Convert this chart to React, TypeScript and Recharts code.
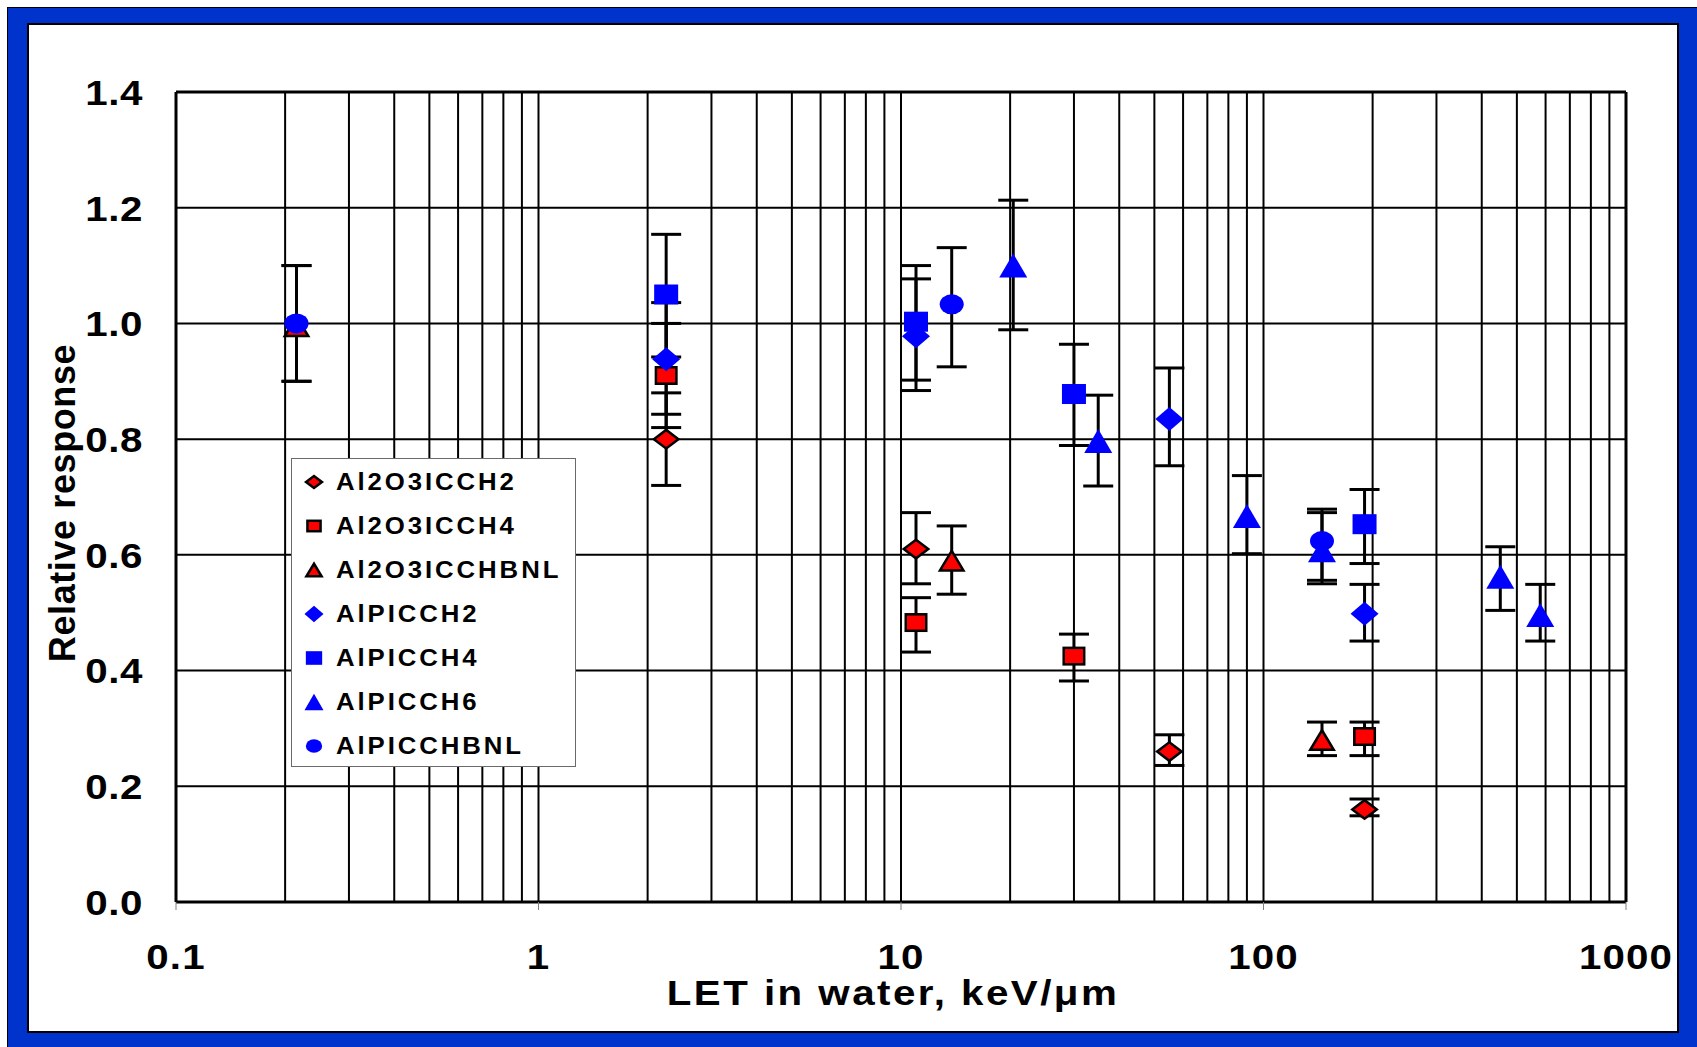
import {
    ScatterChart,
    Scatter,
    XAxis,
    YAxis,
    CartesianGrid,
    ReferenceLine,
    ErrorBar,
    Legend,
} from 'recharts';

const FONT = '"Liberation Sans", Arial, Helvetica, sans-serif';
const STRETCH = 1.12; // the slide text is drawn a little wide

// [LET keV/um, relative response, error bar low, error bar high]
const al2o3Ch2 = [
    [2.25, 0.80, 0.72, 0.88],
    [11, 0.61, 0.55, 0.673],
    [55, 0.26, 0.236, 0.289],
    [190, 0.16, 0.149, 0.178],
];
const al2o3Ch4 = [
    [2.25, 0.91, 0.82, 1.0],
    [11, 0.483, 0.432, 0.526],
    [30, 0.425, 0.382, 0.463],
    [190, 0.286, 0.253, 0.311],
];
const al2o3ChBnl = [
    [0.215, 0.995, 0.9, 1.1],
    [13.8, 0.59, 0.532, 0.65],
    [145, 0.28, 0.253, 0.311],
];
const alpCh2 = [
    [2.25, 0.938, 0.843, 1.036],
    [11, 0.978, 0.884, 1.077],
    [55, 0.835, 0.754, 0.923],
    [190, 0.498, 0.451, 0.549],
];
const alpCh4 = [
    [2.25, 1.05, 0.942, 1.154],
    [11, 1.003, 0.902, 1.1],
    [30, 0.878, 0.789, 0.964],
    [190, 0.653, 0.585, 0.713],
];
const alpCh6 = [
    [20.4, 1.1, 0.989, 1.213],
    [35, 0.797, 0.719, 0.876],
    [90, 0.667, 0.602, 0.737],
    [145, 0.608, 0.55, 0.673],
    [450, 0.562, 0.504, 0.614],
    [580, 0.496, 0.451, 0.549],
];
const alpChBnl = [
    [0.215, 1.0, 0.9, 1.1],
    [13.8, 1.033, 0.925, 1.131],
    [145, 0.624, 0.556, 0.679],
];

const xTicks = [0.1, 1, 10, 100, 1000];
const yTicks = [0, 0.2, 0.4, 0.6, 0.8, 1.0, 1.2, 1.4];
const xGridLines = [
    0.2, 0.3, 0.4, 0.5, 0.6, 0.7, 0.8, 0.9,
    1, 2, 3, 4, 5, 6, 7, 8, 9,
    10, 20, 30, 40, 50, 60, 70, 80, 90,
    100, 200, 300, 400, 500, 600, 700, 800, 900,
];

type Kind = 'diamond' | 'square' | 'triangle' | 'circle';

interface SeriesDef {
    name: string;
    rows: number[][];
    kind: Kind;
    fill: string;
    outline: boolean;
    w: number;
    h: number;
}

const series: SeriesDef[] = [
    { name: 'Al2O3ICCH2', rows: al2o3Ch2, kind: 'diamond', fill: '#FF0000', outline: true, w: 27, h: 21 },
    { name: 'Al2O3ICCH4', rows: al2o3Ch4, kind: 'square', fill: '#FF0000', outline: true, w: 23, h: 19 },
    { name: 'Al2O3ICCHBNL', rows: al2o3ChBnl, kind: 'triangle', fill: '#FF0000', outline: true, w: 26, h: 22 },
    { name: 'AlPICCH2', rows: alpCh2, kind: 'diamond', fill: '#0000FF', outline: false, w: 28, h: 24 },
    { name: 'AlPICCH4', rows: alpCh4, kind: 'square', fill: '#0000FF', outline: false, w: 24, h: 20 },
    { name: 'AlPICCH6', rows: alpCh6, kind: 'triangle', fill: '#0000FF', outline: false, w: 28, h: 24 },
    { name: 'AlPICCHBNL', rows: alpChBnl, kind: 'circle', fill: '#0000FF', outline: false, w: 24, h: 20 },
];

function Marker({ s, cx, cy, scale = 1 }: { s: SeriesDef; cx: number; cy: number; scale?: number }) {
    const sw = s.outline ? 2.5 : 0;
    const w = s.w * scale - sw;
    const h = s.h * scale - sw;
    const common = { fill: s.fill, stroke: s.outline ? '#000' : 'none', strokeWidth: sw, strokeLinejoin: 'miter' as const };
    if (s.kind === 'diamond') {
        return <polygon points={`${cx - w / 2},${cy} ${cx},${cy - h / 2} ${cx + w / 2},${cy} ${cx},${cy + h / 2}`} {...common} />;
    }
    if (s.kind === 'square') {
        return <rect x={cx - w / 2} y={cy - h / 2} width={w} height={h} {...common} />;
    }
    if (s.kind === 'triangle') {
        return <polygon points={`${cx},${cy - h / 2} ${cx + w / 2},${cy + h / 2} ${cx - w / 2},${cy + h / 2}`} {...common} />;
    }
    return <ellipse cx={cx} cy={cy} rx={w / 2} ry={h / 2} {...common} />;
}

const LegendBox = ({ payload }: any) => (
    <div
        style={{
            width: 285,
            height: 309,
            border: '1px solid #6a6a6a',
            background: '#fff',
            boxSizing: 'border-box',
            paddingTop: 1,
            fontFamily: FONT,
        }}
    >
        {(payload ?? []).map((entry: any) => {
            const s = series.find((d) => d.name === entry.value);
            if (!s) return null;
            return (
                <div key={s.name} style={{ height: 44, display: 'flex', alignItems: 'center' }}>
                    <svg width={44} height={30} style={{ flex: 'none' }}>
                        <Marker s={s} cx={22} cy={15} scale={0.68} />
                    </svg>
                    <span
                        style={{
                            display: 'inline-block',
                            fontSize: 23,
                            fontWeight: 700,
                            letterSpacing: 2.6,
                            color: '#000',
                            whiteSpace: 'nowrap',
                            transform: `scaleX(${STRETCH})`,
                            transformOrigin: 'left center',
                        }}
                    >
                        {s.name}
                    </span>
                </div>
            );
        })}
    </div>
);

const tickStyle = { fontFamily: FONT, fontSize: 36, fontWeight: 700, fill: '#000' };

const XTick = ({ x, y, payload }: any) => (
    <text transform={`translate(${x},${y}) scale(${STRETCH},1)`} textAnchor="middle" dy="0.71em" letterSpacing={1} {...tickStyle}>
        {String(payload.value)}
    </text>
);

const YTick = ({ x, y, payload }: any) => (
    <text transform={`translate(${x},${y}) scale(${STRETCH},1)`} textAnchor="end" dy="0.355em" letterSpacing={0.5} {...tickStyle}>
        {Number(payload.value).toFixed(1)}
    </text>
);

const XTitle = ({ viewBox }: any) => (
    <text
        transform={`translate(${viewBox.x + viewBox.width / 2 - 8},${viewBox.y + 103}) scale(${STRETCH},1)`}
        textAnchor="middle"
        fontFamily={FONT}
        fontSize={36}
        fontWeight={700}
        letterSpacing={2.2}
        fill="#000"
    >
        LET in water, keV/μm
    </text>
);

const YTitle = ({ viewBox }: any) => {
    const x = viewBox.x + 75;
    const y = viewBox.y + viewBox.height / 2 + 6;
    return (
        <text
            x={x}
            y={y}
            transform={`rotate(-90, ${x}, ${y})`}
            textAnchor="middle"
            fontFamily={FONT}
            fontSize={36}
            fontWeight={700}
            letterSpacing={0.6}
            fill="#000"
        >
            Relative response
        </text>
    );
};

export default function App() {
    return (
        <div style={{ position: 'absolute', left: 0, top: 0, width: 1697, height: 1047, background: '#fff', overflow: 'hidden' }}>
            {/* blue slide frame */}
            <div style={{ position: 'absolute', left: 7, top: 7, width: 1690, height: 1040, background: '#0033CC', borderLeft: '1px solid #000', borderTop: '1px solid #000', boxSizing: 'border-box' }} />
            <div style={{ position: 'absolute', left: 27, top: 23, width: 1652, height: 1010, background: '#fff', border: '2px solid #000', boxSizing: 'border-box' }} />

            <div style={{ position: 'absolute', left: 0, top: 0 }}>
                <ScatterChart
                    width={1697}
                    height={1047}
                    margin={{ top: 92, right: 71, left: 0, bottom: 35 }}
                    style={{ fontFamily: FONT }}
                >
                    <CartesianGrid stroke="#000" strokeWidth={2} vertical={false} />
                    {xGridLines.map((v) => (
                        <ReferenceLine key={v} x={v} stroke="#000" strokeWidth={2} />
                    ))}

                    <XAxis
                        type="number"
                        dataKey="x"
                        scale="log"
                        domain={[0.1, 1000]}
                        ticks={xTicks}
                        interval={0}
                        allowDataOverflow
                        height={110}
                        tick={<XTick />}
                        tickSize={8}
                        tickMargin={33}
                        tickLine={{ stroke: '#808080', strokeWidth: 1 }}
                        axisLine={{ stroke: '#000', strokeWidth: 3 }}
                        label={{ value: 'LET in water, keV/μm', content: XTitle }}
                    />
                    <YAxis
                        type="number"
                        dataKey="y"
                        domain={[0, 1.4]}
                        ticks={yTicks}
                        interval={0}
                        allowDataOverflow
                        width={176}
                        tick={<YTick />}
                        tickSize={0}
                        tickMargin={33}
                        tickLine={false}
                        axisLine={{ stroke: '#000', strokeWidth: 3 }}
                        label={{ value: 'Relative response', content: YTitle }}
                    />

                    {/* top and right frame of the plot area */}
                    <ReferenceLine y={1.4} stroke="#000" strokeWidth={3} />
                    <ReferenceLine x={1000} stroke="#000" strokeWidth={3} />

                    <Legend
                        layout="vertical"
                        align="center"
                        verticalAlign="middle"
                        content={<LegendBox />}
                        wrapperStyle={{ left: 291, top: 458, width: 285, height: 309 }}
                    />

                    {series.map((s) => (
                        <Scatter
                            key={s.name}
                            name={s.name}
                            data={s.rows.map(([x, y, lo, hi]) => ({ x, y, err: [y - lo, hi - y] }))}
                            dataKey="y"
                            isAnimationActive={false}
                            shape={(p: any) => <Marker s={s} cx={p.cx} cy={p.cy} />}
                        >
                            <ErrorBar dataKey="err" direction="y" width={15} stroke="#000" strokeWidth={3} isAnimationActive={false} />
                        </Scatter>
                    ))}
                </ScatterChart>
            </div>
        </div>
    );
}
